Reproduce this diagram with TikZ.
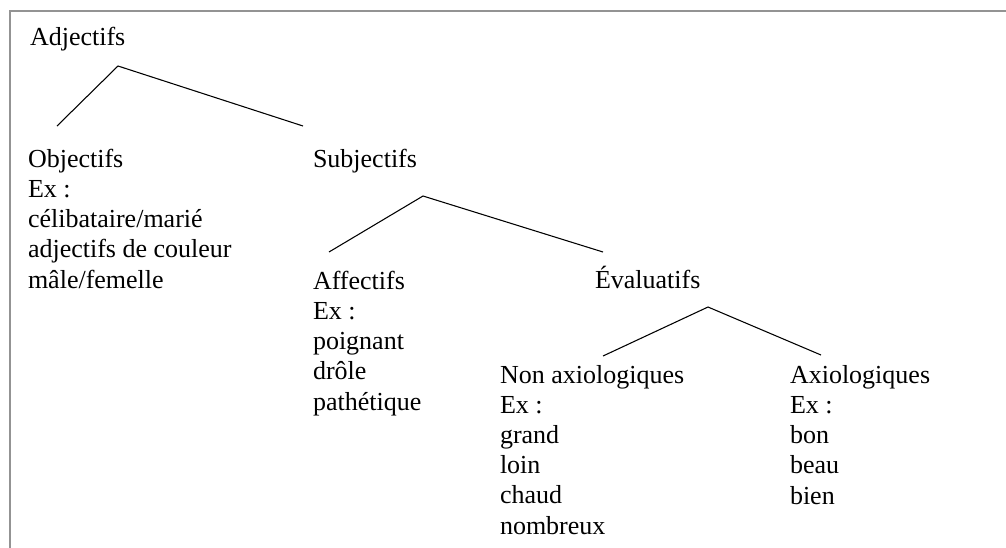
\documentclass[tikz,border=0pt]{standalone}
\usepackage{fontspec}
\setmainfont{Liberation Serif}
\begin{document}
\begin{tikzpicture}[x=0.75pt,y=-0.75pt,
  lbl/.style={anchor=base west,inner sep=0pt,outer sep=0pt,align=left,
    font=\fontsize{19.5pt}{22.6pt}\selectfont},
  branch/.style={draw=black,line width=0.8pt},
  frameline/.style={draw=gray!85,line width=1.6pt}]
\useasboundingbox (0,0) rectangle (1006,547);
% frame
\coordinate (fbl) at (10,548);
\coordinate (ftl) at (10,11);
\coordinate (ftr) at (1007,11);
\draw[frameline] (fbl) -- (ftl) -- (ftr);
% texts (multi-line nodes are placed by the baseline of their last line)
\node[lbl] (adj) at (30,45) {Adjectifs};
\node[lbl] (obj) at (28,288) {Objectifs\\Ex :\\célibataire/marié\\adjectifs de couleur\\mâle/femelle};
\node[lbl] (subj) at (313,167) {Subjectifs};
\node[lbl] (aff) at (313,410) {Affectifs\\Ex :\\poignant\\drôle\\pathétique};
\node[lbl] (eval) at (595,288) {Évaluatifs};
\node[lbl] (nonax) at (500,534) {Non axiologiques\\Ex :\\grand\\loin\\chaud\\nombreux};
\node[lbl] (ax) at (790,504) {Axiologiques\\Ex :\\bon\\beau\\bien};
% branch points
\coordinate (adjTop) at (118,66);
\coordinate (adjL) at (57,126);
\coordinate (adjR) at (303,126);
\coordinate (subjTop) at (423,196);
\coordinate (subjL) at (329,252);
\coordinate (subjR) at (603,252);
\coordinate (evalTop) at (708,307);
\coordinate (evalL) at (603,356);
\coordinate (evalR) at (821,355);
\draw[branch] (adjL) -- (adjTop) -- (adjR);
\draw[branch] (subjL) -- (subjTop) -- (subjR);
\draw[branch] (evalL) -- (evalTop) -- (evalR);
\end{tikzpicture}
\end{document}
